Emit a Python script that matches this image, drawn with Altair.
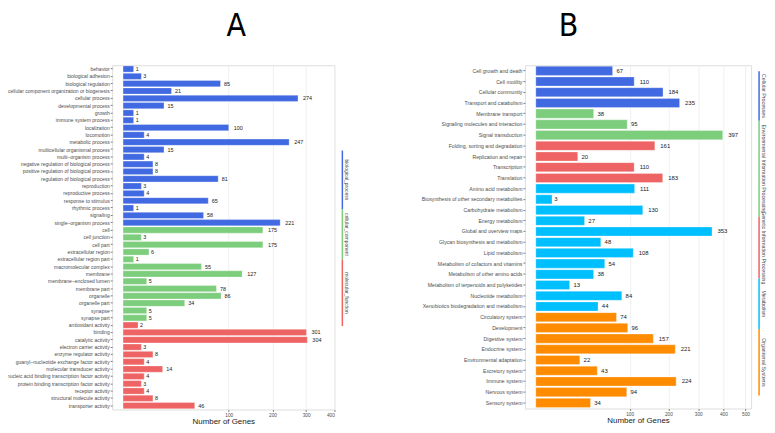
import altair as alt
import pandas as pd

# ---------------- Panel A (GO) ----------------
a_bp_terms = ["behavior", "biological adhesion", "biological regulation",
              "cellular component organization or biogenesis", "cellular process",
              "developmental process", "growth", "immune system process", "localization",
              "locomotion", "metabolic process", "multicellular organismal process",
              "multi–organism process", "negative regulation of biological process",
              "positive regulation of biological process", "regulation of biological process",
              "reproduction", "reproductive process", "response to stimulus", "rhythmic process",
              "signaling", "single–organism process"]
a_bp_values = [1, 3, 85, 21, 274, 15, 1, 1, 100, 4, 247, 15, 4, 8, 8, 81, 3, 4, 65, 1, 58, 221]

a_cc_terms = ["cell", "cell junction", "cell part", "extracellular region",
              "extracellular region part", "macromolecular complex", "membrane",
              "membrane–enclosed lumen", "membrane part", "organelle", "organelle part",
              "synapse", "synapse part"]
a_cc_values = [175, 3, 175, 6, 1, 55, 127, 5, 78, 86, 34, 5, 5]

a_mf_terms = ["antioxidant activity", "binding", "catalytic activity", "electron carrier activity",
              "enzyme regulator activity", "guanyl–nucleotide exchange factor activity",
              "molecular transducer activity", "nucleic acid binding transcription factor activity",
              "protein binding transcription factor activity", "receptor activity",
              "structural molecule activity", "transporter activity"]
a_mf_values = [2, 301, 304, 3, 8, 4, 14, 4, 3, 4, 8, 46]

a_groups = ["biological_process", "cellular_component", "molecular_function"]
a_colors = ["#4169E1", "#7CCD7C", "#EE6363"]
a_ticks = [100, 200, 300, 400]

# ---------------- Panel B (KEGG) ----------------
b_cp_terms = ["Cell growth and death", "Cell motility", "Cellular community", "Transport and catabolism"]
b_cp_values = [67, 110, 184, 235]
b_eip_terms = ["Membrane transport", "Signaling molecules and interaction", "Signal transduction"]
b_eip_values = [38, 95, 397]
b_gip_terms = ["Folding, sorting and degradation", "Replication and repair", "Transcription", "Translation"]
b_gip_values = [161, 20, 110, 183]
b_met_terms = ["Amino acid metabolism", "Biosynthesis of other secondary metabolites",
               "Carbohydrate metabolism", "Energy metabolism", "Global and overview maps",
               "Glycan biosynthesis and metabolism", "Lipid metabolism",
               "Metabolism of cofactors and vitamins", "Metabolism of other amino acids",
               "Metabolism of terpenoids and polyketides", "Nucleotide metabolism",
               "Xenobiotics biodegradation and metabolism"]
b_met_values = [111, 3, 130, 27, 353, 48, 108, 54, 38, 13, 84, 44]
b_org_terms = ["Circulatory system", "Development", "Digestive system", "Endocrine system",
               "Environmental adaptation", "Excretory system", "Immune system",
               "Nervous system", "Sensory system"]
b_org_values = [74, 96, 157, 221, 22, 43, 224, 94, 34]

b_groups = ["Cellular Processes", "Environmental Information Processing",
            "Genetic Information Processing", "Metabolism", "Organismal Systems"]
b_colors = ["#4169E1", "#7CCD7C", "#EE6363", "#00BFFF", "#FF8C00"]
b_ticks = [100, 200, 300, 400, 500]


def make_df(term_lists, value_lists, groups):
    rows = []
    for terms, vals, g in zip(term_lists, value_lists, groups):
        for t, v in zip(terms, vals):
            rows.append({"term": t, "value": v, "group": g, "label": str(v)})
    return pd.DataFrame(rows)


df_a = make_df([a_bp_terms, a_cc_terms, a_mf_terms], [a_bp_values, a_cc_values, a_mf_values], a_groups)
df_b = make_df([b_cp_terms, b_eip_terms, b_gip_terms, b_met_terms, b_org_terms],
               [b_cp_values, b_eip_values, b_gip_values, b_met_values, b_org_values], b_groups)

FONT = "Liberation Sans"
TITLE_FONT = "DejaVu Sans Condensed, DejaVu Sans, sans-serif"


def panel(df, groups, colors, ticks, width, height, xmin, xmax, label_font, value_font,
          legend_px, legend_font, title_text, title_x):
    order = list(df["term"])
    y = alt.Y("term:N", sort=order, title=None,
              scale=alt.Scale(paddingInner=0.15, paddingOuter=0.1),
              axis=alt.Axis(labelFontSize=label_font, labelColor="#4d4d4d", labelFont=FONT,
                            tickSize=2, tickColor="#7f7f7f", labelPadding=1, domain=False,
                            labelLimit=400))
    x = alt.X("value:Q",
              scale=alt.Scale(type="sqrt", domain=[xmin, xmax], nice=False, zero=False),
              axis=alt.Axis(values=ticks, title="Number of Genes", titleFontSize=8,
                            titleFontWeight="normal", titleFont=FONT, titleColor="#1a1a1a",
                            labelFontSize=4.8, labelFont=FONT, labelColor="#4d4d4d",
                            tickSize=2, tickColor="#7f7f7f", labelPadding=1, titlePadding=0,
                            grid=True, gridColor="#f0f0f0", domain=False))
    color = alt.Color("group:N", scale=alt.Scale(domain=groups, range=colors), legend=None)

    base = alt.Chart(df)
    bars = base.mark_bar(stroke="white", strokeWidth=0.3).encode(
        y=y, x=x, x2=alt.datum(0), color=color)

    layers = [bars]
    digit_w = 0.556 * value_font * 0.5
    for n in (1, 2, 3):
        layers.append(
            base.transform_filter(f"length(datum.label) == {n}")
            .mark_text(align="left", baseline="middle", dx=digit_w * n + 0.5,
                       fontSize=value_font, font=FONT, color="#1a1a1a")
            .encode(y=alt.Y("term:N", sort=order), x=alt.X("value:Q"), text="label:N"))

    lx = width + 8
    for g, c, (y0, y1) in zip(groups, colors, legend_px):
        one = alt.Chart(pd.DataFrame({"g": [g]}))
        layers.append(one.mark_rule(color=c, strokeWidth=1.5).encode(
            x=alt.value(lx), y=alt.value(y0), y2=alt.value(y1)))
        layers.append(one.mark_text(angle=90, align="center", baseline="middle",
                                    fontSize=legend_font, font=FONT, color="#4d4d4d").encode(
            x=alt.value(lx + 5), y=alt.value((y0 + y1) / 2), text="g:N"))

    layers.append(alt.Chart(pd.DataFrame({"t": [title_text]})).mark_text(
        fontSize=32, font=TITLE_FONT, color="black", baseline="top",
        align="center").encode(x=alt.value(title_x), y=alt.value(-54), text="t:N"))

    return alt.layer(*layers).properties(width=width, height=height)


chart_a = panel(df_a, a_groups, a_colors, a_ticks, 224, 347, -1.06, 400, 5.05, 5.5,
                [(86, 145), (145, 196), (196, 263)], 5, "A", 125)
chart_b = panel(df_b, b_groups, b_colors, b_ticks, 228, 346, -1.35, 527, 5.2, 6,
                [(6, 56), (56, 153), (153, 215), (215, 266), (266, 333)], 5.3, "B", 44)

chart = alt.hconcat(chart_a, chart_b, spacing=71).resolve_scale(
    color="independent", x="independent", y="independent"
).properties(
    padding={"left": -3, "top": 0, "right": 0, "bottom": 0}
).configure_view(stroke="#7f7f7f", strokeWidth=1).configure(background="white")

chart.save("out.html", embed_options={"renderer": "svg", "actions": False})
